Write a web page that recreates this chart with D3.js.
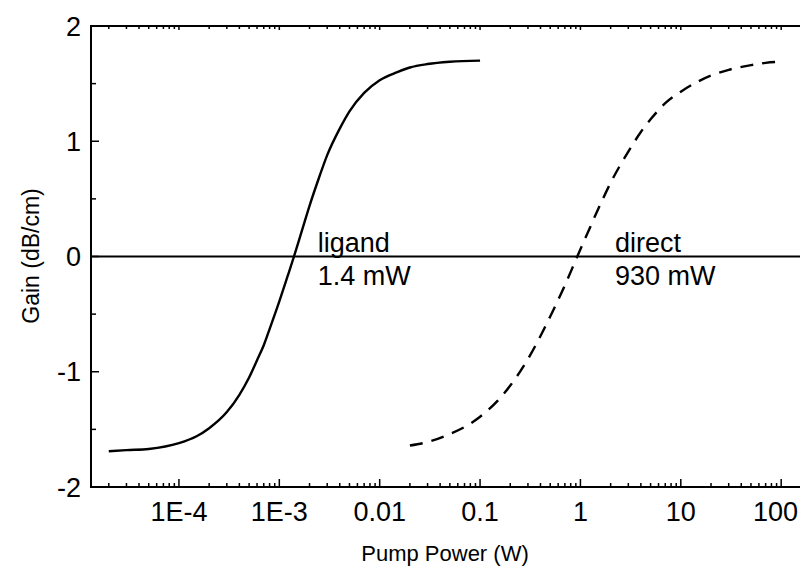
<!DOCTYPE html>
<html><head><meta charset="utf-8">
<script src="https://cdn.jsdelivr.net/npm/d3@7"></script>
<style>body{margin:0;background:#fff}svg{display:block}text{font-family:"Liberation Sans",Arial,sans-serif;fill:#000}</style>
</head><body><svg id="c" width="800" height="572"></svg>
<script>
// Data
const ligandPower = [2e-5,3e-5,5e-5,1e-4,1.5e-4,2e-4,3e-4,4e-4,5e-4,6e-4,7e-4,8e-4,1e-3,1.2e-3,1.4e-3,1.7e-3,2e-3,2.5e-3,3e-3,4e-3,5e-3,7e-3,1e-2,1.5e-2,2e-2,3e-2,5e-2,0.1];
const ligandGain  = [-1.69,-1.68,-1.67,-1.62,-1.56,-1.49,-1.35,-1.20,-1.05,-0.90,-0.77,-0.63,-0.39,-0.18,0,0.24,0.44,0.69,0.88,1.11,1.26,1.42,1.53,1.60,1.64,1.67,1.69,1.70];
const directPower = [0.02,0.03,0.05,0.07,0.1,0.15,0.2,0.3,0.4,0.5,0.7,0.93,1.2,1.5,2,3,4,5,7,10,15,20,30,50,70,100];
const directGain  = [-1.64,-1.61,-1.54,-1.48,-1.39,-1.25,-1.12,-0.89,-0.69,-0.52,-0.25,0,0.22,0.41,0.64,0.91,1.08,1.19,1.33,1.43,1.52,1.57,1.62,1.66,1.68,1.69];
const xTickValues = [1e-4,1e-3,1e-2,0.1,1,10,100];
const xTickLabels = ["1E-4","1E-3","0.01","0.1","1","10","100"];
const yTickValues = [-2,-1,0,1,2];
const annotations = [
  {x:2.42e-3, lines:["ligand","1.4 mW"]},
  {x:2.21, lines:["direct","930 mW"]}
];

const svg = d3.select("#c");
const W = 800;
const L=91, R=800, T=26, B=487;
const x = d3.scaleLog().domain([1.33e-5,154]).range([L,R]);
const y = d3.scaleLinear().domain([-2,2]).range([B,T]);

const minorX = [];
for (let e=-5;e<=2;e++) for (let m=1;m<=9;m++){const v=m*Math.pow(10,e); if(v>=x.domain()[0]&&v<=x.domain()[1]) minorX.push(v);}
const minorY = d3.range(-2,2.01,0.5);
const isMajor = d=>xTickValues.some(t=>Math.abs(t-d)/t<1e-6);

const g = svg.append("g");
g.selectAll(".bx").data(minorX).join("line")
  .attr("x1",d=>x(d)).attr("x2",d=>x(d))
  .attr("y1",B).attr("y2",d=>B-(isMajor(d)?8:4))
  .attr("stroke","#000").attr("stroke-width",1.5);
g.selectAll(".tx").data(minorX).join("line")
  .attr("x1",d=>x(d)).attr("x2",d=>x(d))
  .attr("y1",T).attr("y2",d=>T+(isMajor(d)?4:3))
  .attr("stroke","#000").attr("stroke-width",1.5);
g.selectAll(".ly").data(minorY).join("line")
  .attr("y1",d=>y(d)).attr("y2",d=>y(d))
  .attr("x1",L).attr("x2",d=>L+(Number.isInteger(d)?8:5))
  .attr("stroke","#000").attr("stroke-width",1.5);

g.append("line").attr("x1",L).attr("x2",R).attr("y1",B).attr("y2",B).attr("stroke","#000").attr("stroke-width",2);
g.append("line").attr("x1",L).attr("x2",R).attr("y1",T).attr("y2",T).attr("stroke","#000").attr("stroke-width",2);
g.append("line").attr("x1",L).attr("x2",L).attr("y1",T-1).attr("y2",B+1).attr("stroke","#000").attr("stroke-width",2);

g.selectAll(".xl").data(xTickValues).join("text")
  .attr("x",d=>x(d)).attr("y",521).attr("text-anchor","middle").attr("font-size",27)
  .text((d,i)=>xTickLabels[i])
  .each(function(){
    const bb=this.getBBox();
    if (bb.x+bb.width > W-2) d3.select(this).attr("x", +d3.select(this).attr("x") - (bb.x+bb.width-(W-2)));
  });
g.selectAll(".yl").data(yTickValues).join("text")
  .attr("x",81).attr("y",d=>y(d)+9.5).attr("text-anchor","end").attr("font-size",27)
  .text(d=>d);

svg.append("text").attr("x",445).attr("y",561).attr("text-anchor","middle").attr("font-size",22).text("Pump Power (W)");
svg.append("text").attr("transform","translate(39,256) rotate(-90)").attr("text-anchor","middle").attr("font-size",23).text("Gain (dB/cm)");

g.append("line").attr("x1",L).attr("x2",R).attr("y1",y(0)).attr("y2",y(0)).attr("stroke","#000").attr("stroke-width",2);

const line = d3.line().x(d=>x(d[0])).y(d=>y(d[1])).curve(d3.curveMonotoneX);
g.append("path").datum(d3.zip(ligandPower,ligandGain)).attr("d",line)
  .attr("fill","none").attr("stroke","#000").attr("stroke-width",2.4);
g.append("path").datum(d3.zip(directPower,directGain)).attr("d",line)
  .attr("fill","none").attr("stroke","#000").attr("stroke-width",2.4).attr("stroke-dasharray","13,9");

annotations.forEach(a=>{
  const t = svg.append("text").attr("font-size",27);
  a.lines.forEach((s,i)=>t.append("tspan").attr("x",x(a.x)).attr("y",i?285:252).text(s));
});
</script></body></html>
